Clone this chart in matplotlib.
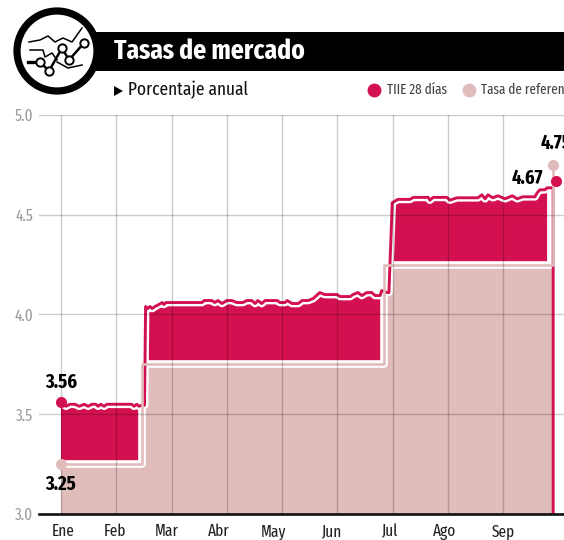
import numpy as np
import matplotlib
matplotlib.use('Agg')
import matplotlib.pyplot as plt
from matplotlib.patches import Circle, Rectangle, Polygon

ROJO = '#D41150'
ROSA = '#E0BCBB'
GRIS = '#9C9C9C'
plt.rcParams['font.family'] = ['Fira Sans Extra Condensed', 'Liberation Sans', 'DejaVu Sans']

meses = ['Ene', 'Feb', 'Mar', 'Abr', 'May', 'Jun', 'Jul', 'Ago', 'Sep']
mes_pos = [0, 1, 2, 3, 4, 5, 6, 7, 8]
etiqueta_pos = [0.04, 0.98, 1.91, 2.85, 3.84, 4.90, 5.95, 6.94, 8.00]
y_ticks = [3.0, 3.5, 4.0, 4.5, 5.0]

# posicion en meses desde enero, valor
tiie_x = [0, .09, .16, .25, .33, .42, .49, .56, .63, .67, .72, .78, .83, 1.28, 1.32, 1.37, 1.41, 1.45, 1.51,
          1.53, 1.57, 1.61, 1.65, 1.70, 1.77, 1.83, 1.86, 1.90, 2.55, 2.59, 2.73, 2.78, 2.84, 2.91, 3.00, 3.09,
          3.18, 3.29, 3.36, 3.45, 3.51, 3.56, 3.63, 3.69, 3.91, 3.96, 4.05, 4.09, 4.18, 4.29, 4.36, 4.47, 4.56,
          4.68, 4.77, 4.99, 5.05, 5.23, 5.28, 5.37, 5.44, 5.53, 5.62, 5.68, 5.77, 5.80, 5.90, 5.93,
          5.99, 6.09, 6.31, 6.37, 6.64, 6.67, 6.73, 6.98, 7.03, 7.16, 7.54, 7.61, 7.67, 7.72, 7.81, 7.90, 8.03,
          8.16, 8.25, 8.35, 8.57, 8.61, 8.66, 8.75, 8.79, 8.90]
tiie_y = [3.56, 3.54, 3.55, 3.55, 3.54, 3.55, 3.54, 3.55, 3.55, 3.54, 3.55, 3.54, 3.55, 3.55, 3.54, 3.55, 3.54, 3.545, 3.545,
          4.04, 4.03, 4.04, 4.03, 4.04, 4.05, 4.06, 4.05, 4.06, 4.06, 4.07, 4.07, 4.06, 4.07, 4.055, 4.07, 4.07,
          4.06, 4.06, 4.07, 4.07, 4.055, 4.07, 4.055, 4.07, 4.07, 4.06, 4.06, 4.07, 4.055, 4.055, 4.07, 4.07, 4.08,
          4.11, 4.10, 4.10, 4.09, 4.09, 4.10, 4.11, 4.095, 4.11, 4.11, 4.095, 4.095, 4.12, 4.11, 4.11,
          4.56, 4.577, 4.577, 4.587, 4.587, 4.573, 4.587, 4.587, 4.573, 4.585, 4.585, 4.60, 4.58, 4.60, 4.585, 4.595, 4.58,
          4.595, 4.58, 4.59, 4.59, 4.61, 4.625, 4.625, 4.635, 4.635]
ref_x = [0, 1.46, 1.46, 5.84, 5.84, 8.89, 8.89]
ref_y = [3.25, 3.25, 3.75, 3.75, 4.25, 4.25, 4.75]

fig = plt.figure(figsize=(5.64, 5.40), dpi=100)
ax = fig.add_axes([39 / 564, 26 / 540, 525 / 564, 399 / 540])
ax.set_xlim(-0.398, 9.096)
ax.set_ylim(3, 5)

tx = np.array(tiie_x)
ty = np.array(tiie_y)
rx = np.array(ref_x)
ry = np.array(ref_y)

# tasa de referencia en cada punto de la TIIE
ref_en_t = ry[np.searchsorted(rx, tx, side='right') - 1]

ax.fill_between(rx, ry, 3, color=ROSA, lw=0, zorder=1)
ax.fill_between(tx, ty, ref_en_t, where=ty > ref_en_t, color=ROJO, lw=0, zorder=1.1)

ax.plot(tx, ty, color='white', lw=5.5, zorder=1.2, solid_capstyle='butt')
ax.plot(rx, ry, color='white', lw=5.5, zorder=1.3, solid_capstyle='butt')
# la caida final de la TIIE no lleva borde blanco
ax.plot(np.r_[tx, tx[-1]], np.r_[ty, 3], color=ROJO, lw=2.1, zorder=1.4, solid_joinstyle='round')
ax.plot(rx, ry, color=ROSA, lw=1.9, zorder=1.5, solid_capstyle='butt')

ax.plot([0], [3.56], 'o', color=ROJO, ms=8, mew=0, zorder=5)
ax.plot([0], [3.25], 'o', color=ROSA, ms=8, mew=0, zorder=5)
ax.plot([8.96], [4.67], 'o', color=ROJO, ms=8, mew=0, zorder=5, clip_on=False)
ax.plot([8.89], [4.75], 'o', color=ROSA, ms=8, mew=0, zorder=5, clip_on=False)

ax.text(0, 3.66, '3.56', ha='center', va='center', fontsize=14.5, fontweight='bold', color='black', zorder=6)
ax.text(0, 3.15, '3.25', ha='center', va='center', fontsize=14.5, fontweight='bold', color='black', zorder=6)
ax.text(8.44, 4.68, '4.67', ha='center', va='center', fontsize=14.5, fontweight='bold', color='black', zorder=6)
ax.text(8.68, 4.86, '4.75', ha='left', va='center', fontsize=14.5, fontweight='bold', color='black', zorder=6)

ax.set_axisbelow(False)
ax.xaxis.remove_overlapping_locs = False
ax.set_xticks(mes_pos)
ax.set_xticklabels([])
ax.set_xticks(etiqueta_pos, minor=True)
ax.set_xticklabels(meses, minor=True, fontsize=12, color='#222222')
ax.set_yticks(y_ticks)
ax.set_yticklabels(['%.1f' % v for v in y_ticks], fontsize=12, color=GRIS)
ax.tick_params(axis='x', which='both', length=0)
ax.tick_params(axis='x', which='minor', pad=7)
ax.tick_params(axis='y', length=0, pad=4)
ax.grid(True, which='major', color='black', alpha=0.2, lw=1)
for s in ['top', 'left', 'right']:
    ax.spines[s].set_visible(False)
ax.spines['bottom'].set_linewidth(1.9)
ax.spines['bottom'].set_color('#111111')
ax.spines['bottom'].set_zorder(7)

# encabezado, en pixeles
hd = fig.add_axes([0, 0, 1, 1], facecolor='none')
hd.set_xlim(0, 564)
hd.set_ylim(540, 0)
hd.axis('off')
hd.add_patch(Rectangle((85, 32), 479, 39, color='black', lw=0))
hd.add_patch(Circle((57, 51), 40, facecolor='white', edgecolor='black', lw=5.2))
hd.plot([29, 40, 48, 55, 63, 72, 82], [42, 40, 36, 42, 38, 42, 28], color='black', lw=1.1)
hd.plot([30, 43, 45, 52, 57], [50, 50, 57, 53, 60], color='black', lw=1.1)
hd.plot([57, 68, 82], [62, 68, 65], color='black', lw=1.1)
hd.plot([28, 40], [62, 62], color='black', lw=2.4)
hd.plot([40, 49, 62, 69, 84], [62, 71, 48, 60, 43], color='black', lw=1.8, marker='o', ms=6,
        mfc='white', mec='black', mew=1.4)
hd.text(114, 51, 'Tasas de mercado', color='white', fontsize=20, fontweight='bold', va='center', ha='left')
hd.add_patch(Polygon([(114, 86), (114, 96), (123, 91)], closed=True, color='black', lw=0))
hd.text(128, 90, 'Porcentaje anual', color='#111111', fontsize=13.6, va='center', ha='left')
hd.plot([374], [90], 'o', color=ROJO, ms=10, mew=0)
hd.text(387, 90, 'TIIE 28 días', color='#444444', fontsize=10.3, va='center', ha='left')
hd.plot([469], [90], 'o', color=ROSA, ms=10, mew=0)
hd.text(481, 90, 'Tasa de referencia', color='#444444', fontsize=10.3, va='center', ha='left')

fig.savefig('out.png', dpi=100)
